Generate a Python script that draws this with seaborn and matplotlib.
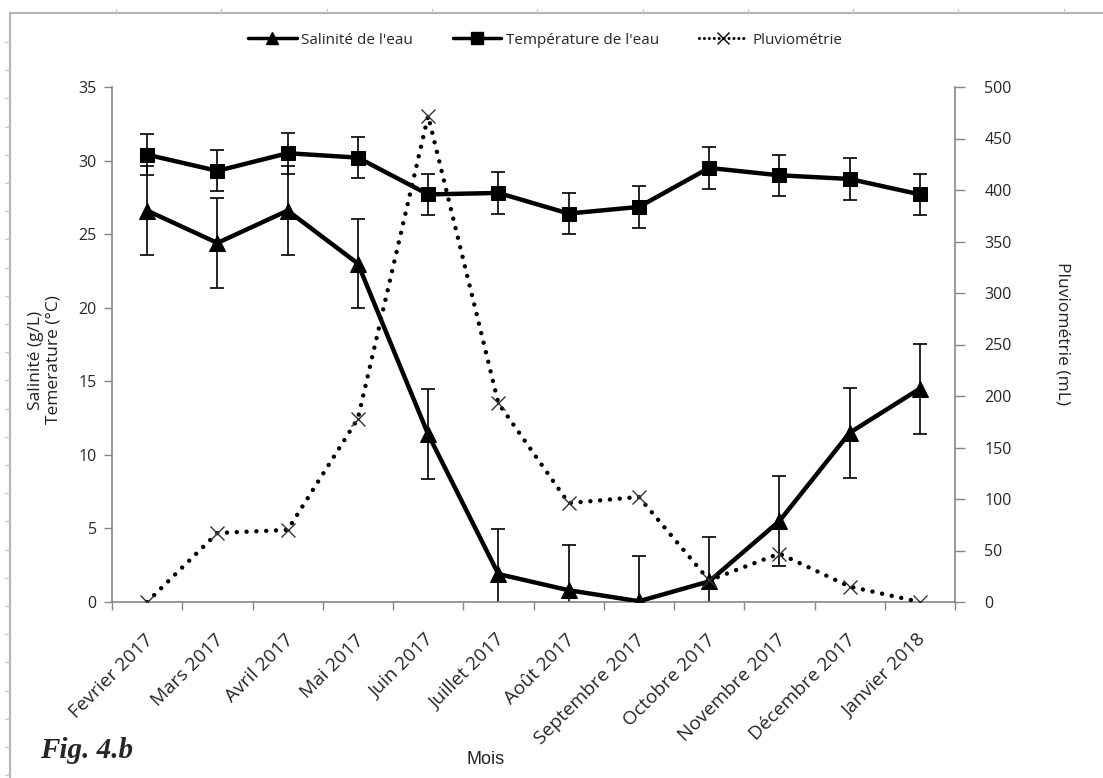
import numpy as np
import pandas as pd
import matplotlib
matplotlib.use("Agg")
import matplotlib.pyplot as plt
import matplotlib.transforms as mtransforms
from matplotlib.lines import Line2D
import seaborn as sns

months = ["Fevrier 2017", "Mars 2017", "Avril 2017", "Mai 2017", "Juin 2017", "Juillet 2017",
          "Août 2017", "Septembre 2017", "Octobre 2017", "Novembre 2017", "Décembre 2017", "Janvier 2018"]
salinite = [26.6, 24.4, 26.6, 23.0, 11.4, 1.9, 0.8, 0.05, 1.4, 5.5, 11.5, 14.5]
salinite_err = [3.05] * 12
temperature = [30.4, 29.3, 30.5, 30.2, 27.7, 27.8, 26.4, 26.85, 29.5, 29.0, 28.75, 27.7]
temperature_err = [1.4] * 12
pluvio = [0, 67, 70, 178, 472, 193, 96, 102, 21, 47, 15, 0]

sns.set_theme(style="white")
plt.rcParams['font.family'] = ['Open Sans', 'DejaVu Sans']

df = pd.DataFrame({"x": np.arange(len(months)), "mois": months, "sal": salinite,
                   "sal_err": salinite_err, "temp": temperature, "temp_err": temperature_err,
                   "pluvio": pluvio})

fig = plt.figure(figsize=(11.03, 7.78), dpi=100)
ax = fig.add_axes([112/1103, 1-602/778, (955-112)/1103, (602-87)/778])
ax2 = ax.twinx()

# error bars
ax.errorbar(df.x, df.sal, yerr=df.sal_err, fmt='none', ecolor='black', elinewidth=1.2, capsize=5, capthick=1.2, zorder=2)
ax.errorbar(df.x, df.temp, yerr=df.temp_err, fmt='none', ecolor='black', elinewidth=1.2, capsize=5, capthick=1.2, zorder=2)

sns.lineplot(data=df, x="x", y="sal", ax=ax, color='black', lw=3.2, marker='^', markersize=12,
             markeredgecolor='black', markerfacecolor='black', zorder=3, legend=False)
sns.lineplot(data=df, x="x", y="temp", ax=ax, color='black', lw=3.2, marker='s', markersize=10,
             markeredgecolor='black', markerfacecolor='black', zorder=3, legend=False)
sns.lineplot(data=df, x="x", y="pluvio", ax=ax2, color='black', lw=3.2, linestyle=(0, (0.01, 2.2)),
             marker='x', markersize=10, markeredgewidth=1.0,
             markeredgecolor='#333333', zorder=3, legend=False)
for l in ax2.lines:
    l.set_dash_capstyle('round')

ax.set_xlim(-0.5, len(months) - 0.5)
ax.set_ylim(0, 35)
ax2.set_ylim(0, 500)
ax.set_yticks(np.arange(0, 36, 5))
ax2.set_yticks(np.arange(0, 501, 50))
ax.set_xticks(np.arange(len(months)))
ax.set_xticks(np.arange(-0.5, len(months), 1), minor=True)
ax.tick_params(axis='x', which='major', length=0, pad=10)
ax.tick_params(axis='x', which='minor', length=6, width=1, color='#868686', direction='out', bottom=True)
ax.tick_params(axis='y', length=6, width=1, color='#868686', direction='out', left=True, labelsize=11.5, pad=5)
ax2.tick_params(axis='y', length=7, width=1, color='#868686', direction='out', right=True, labelsize=11.5, pad=14)
ax.set_xticklabels(months, rotation=45, ha='right', rotation_mode='anchor', fontsize=13.8)
offset = mtransforms.ScaledTranslation(-3/100, -15/100, fig.dpi_scale_trans)
for tick in ax.xaxis.get_major_ticks():
    tick.label1.set_transform(tick.label1.get_transform() + offset)
ax.set_xlabel("")
ax.set_ylabel("")
ax2.set_ylabel("")

for a in (ax, ax2):
    for s in ['left', 'right', 'bottom']:
        a.spines[s].set_color('#868686')
        a.spines[s].set_linewidth(1.2)
    a.spines['top'].set_visible(False)
    a.grid(False)
ax.spines['right'].set_visible(False)
ax2.spines['left'].set_visible(False)
ax2.spines['bottom'].set_visible(False)

fig.text(45/1103, 1-360/778, "Salinité (g/L)\nTemerature (°C)", rotation=90, ha='center', va='center',
         fontsize=12.5, color='#222222', linespacing=1.1)
fig.text(1062/1103, 1-333/778, "Pluviométrie (mL)", rotation=270, ha='center', va='center',
         fontsize=12.5, color='#222222')
fig.text(486/1103, 1-760/778, "Mois", ha='center', va='center', fontsize=13, color='#222222',
         family=['Liberation Sans Narrow', 'Liberation Sans', 'DejaVu Sans'])
fig.text(40/1103, 1-750/778, "Fig. 4.b", ha='left', va='center', fontsize=21, fontweight='bold',
         fontstyle='italic', family=['Liberation Serif', 'DejaVu Serif'])

handles = [Line2D([], [], color='black', lw=2.5, marker='^', markersize=9),
           Line2D([], [], color='black', lw=2.5, marker='s', markersize=8),
           Line2D([], [], color='black', lw=2.2, linestyle=(0, (0.01, 1.6)), marker='x', markersize=9,
                  markeredgewidth=1.0, dash_capstyle='round')]
fig.legend(handles, ["Salinité de l'eau", "Température de l'eau", "Pluviométrie"],
           loc='center', bbox_to_anchor=(545/1103, 1-40/778), ncol=3, frameon=False,
           fontsize=11, handlelength=3.2, columnspacing=2.6, handletextpad=0.3)

# page frame
fig.add_artist(Line2D([10/1103, 10/1103], [0, 1-13/778], transform=fig.transFigure, color='#b4b4b4', lw=1.5))
fig.add_artist(Line2D([10/1103, 1], [1-13/778, 1-13/778], transform=fig.transFigure, color='#b4b4b4', lw=1.5))
for yy in np.arange(42, 778, 28.2):
    fig.add_artist(Line2D([5/1103, 9/1103], [1-yy/778, 1-yy/778], transform=fig.transFigure, color='#c8c8c8', lw=1))
for xx in np.arange(116, 1103, 105.3):
    fig.add_artist(Line2D([xx/1103, xx/1103], [1-9/778, 1-12/778], transform=fig.transFigure, color='#c8c8c8', lw=1))

fig.savefig("out.png", dpi=100)
